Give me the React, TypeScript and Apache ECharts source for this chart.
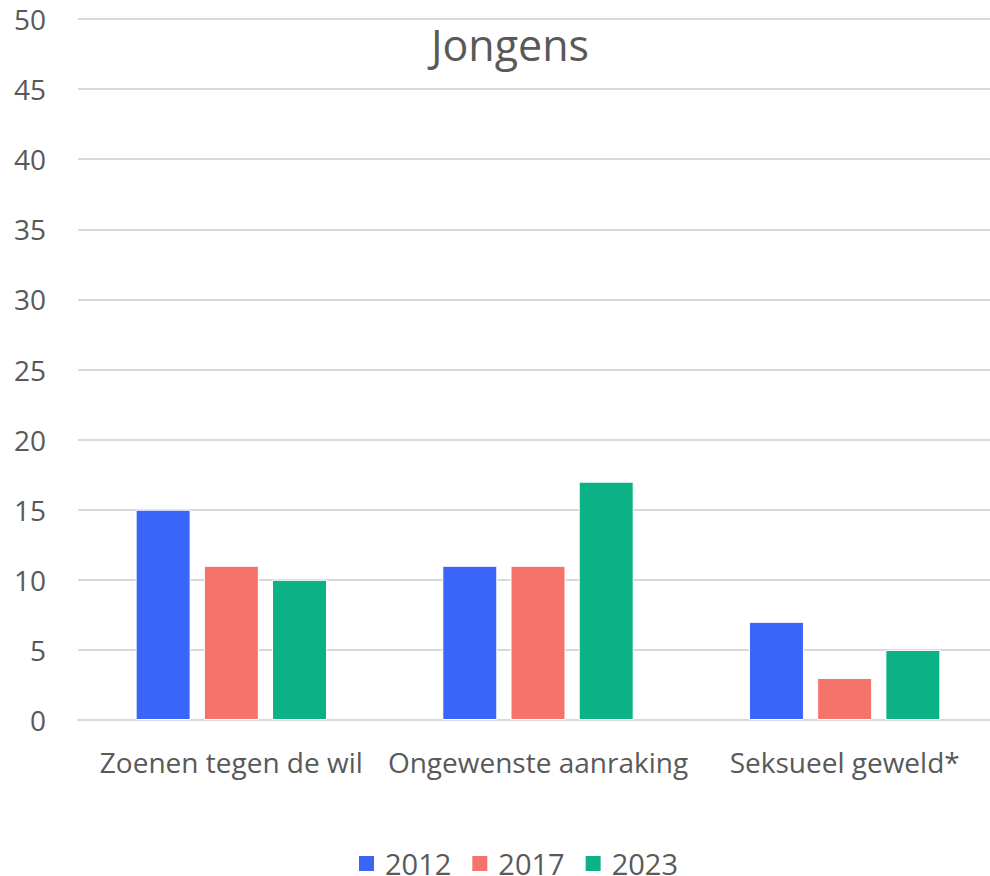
import React, { useEffect, useRef } from "react";
import * as echarts from "echarts";

const categories = ["Zoenen tegen de wil", "Ongewenste aanraking", "Seksueel geweld*"];
const seriesNames = ["2012", "2017", "2023"];
const values2012 = [15, 11, 7];
const values2017 = [11, 11, 3];
const values2023 = [10, 17, 5];
const colors = ["#3B64F9", "#F4736B", "#0CB286"];
const titleText = "Jongens";

export default function App() {
  const ref = useRef<HTMLDivElement>(null);
  useEffect(() => {
    if (!ref.current) return;
    const chart = echarts.init(ref.current, undefined, { renderer: "svg" });
    const font = "'Open Sans', 'Noto Sans', sans-serif";
    const data = [values2012, values2017, values2023];
    chart.setOption({
      animation: false,
      textStyle: { fontFamily: font },
      graphic: [
        {
          type: "text",
          x: 510,
          y: 44,
          style: {
            text: titleText,
            font: `43px ${font}`,
            fill: "#595959",
            textAlign: "center",
            textVerticalAlign: "middle",
          },
        },
      ],
      legend: {
        top: 849,
        left: 357,
        itemWidth: 17,
        itemHeight: 17,
        itemGap: 19,
        icon: "rect",
        padding: 0,
        textStyle: {
          color: "#595959",
          fontSize: 29,
          lineHeight: 26,
          fontFamily: font,
          padding: [0, 0, 0, 5],
        },
        data: seriesNames,
      },
      grid: { left: 78, right: 2, top: 19, bottom: 156, containLabel: false },
      xAxis: {
        type: "category",
        data: categories,
        axisTick: { show: false },
        axisLine: { lineStyle: { color: "#D9D9D9", width: 2 } },
        axisLabel: { color: "#595959", fontSize: 28, fontFamily: font, margin: 28, interval: 0 },
      },
      yAxis: {
        type: "value",
        min: 0,
        max: 50,
        interval: 5,
        axisLine: { show: false },
        axisTick: { show: false },
        axisLabel: { color: "#595959", fontSize: 28, fontFamily: font, margin: 32 },
        splitLine: { lineStyle: { color: "#D9D9D9", width: 2 } },
      },
      series: seriesNames.map((name, i) => ({
        name,
        type: "bar",
        data: data[i],
        barWidth: 55,
        barGap: "24%",
        itemStyle: { color: colors[i], borderColor: "#ffffff", borderWidth: 1 },
      })),
    });
    return () => chart.dispose();
  }, []);
  return (
    <div
      ref={ref}
      style={{ position: "fixed", left: 0, top: 0, width: 1000, height: 876, background: "#fff" }}
    />
  );
}
